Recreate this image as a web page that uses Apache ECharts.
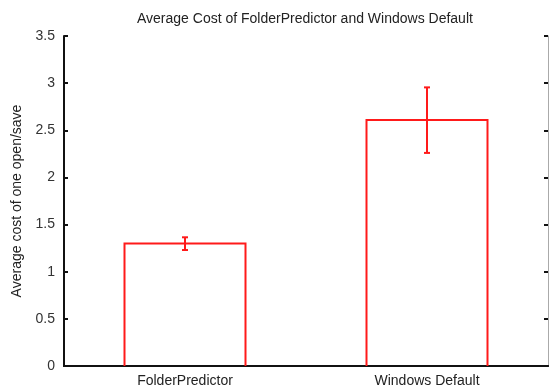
<!DOCTYPE html>
<html>
<head>
<meta charset="utf-8">
<script src="https://cdn.jsdelivr.net/npm/echarts@6/dist/echarts.min.js"></script>
<style>
html,body{margin:0;padding:0;background:#fff;}
#chart{width:549px;height:388px;}
</style>
</head>
<body>
<div id="chart"></div>
<script>
var categories = ['FolderPredictor', 'Windows Default'];
var meanCost = [1.30, 2.61];
var errLow = [1.23, 2.26];
var errHigh = [1.365, 2.955];
var yTicks = [0, 0.5, 1, 1.5, 2, 2.5, 3, 3.5];

var chart = echarts.init(document.getElementById('chart'));
var font = 'Liberation Sans, Arial, sans-serif';

var barData = categories.map(function (c, i) { return [i, meanCost[i]]; });
var errData = categories.map(function (c, i) { return [i, errLow[i], errHigh[i]]; });

chart.setOption({
  animation: false,
  backgroundColor: '#fff',
  title: {
    text: 'Average Cost of FolderPredictor and Windows Default',
    left: 132, top: 7,
    textStyle: { fontFamily: font, fontSize: 14, fontWeight: 'normal', color: '#222' }
  },
  grid: { left: 64, top: 36, right: 1, bottom: 22 },
  xAxis: [{
    type: 'category', data: categories, position: 'bottom',
    axisLine: { lineStyle: { color: '#111', width: 2 } },
    axisTick: { show: false },
    axisLabel: { fontFamily: font, fontSize: 14, color: '#222', margin: 8 },
    splitLine: { show: false }
  }, {
    type: 'category', data: categories, position: 'top',
    axisLine: { lineStyle: { color: '#111', width: 2 } },
    axisTick: { show: false }, axisLabel: { show: false }
  }],
  yAxis: [{
    type: 'value', min: 0, max: 3.5, interval: 0.5,
    name: 'Average cost of one open/save', nameLocation: 'middle', nameGap: 30,
    nameTextStyle: { fontFamily: font, fontSize: 14, color: '#222' },
    axisLine: { show: true, lineStyle: { color: '#111', width: 2 } },
    axisTick: { show: true, inside: true, length: 4, lineStyle: { color: '#111', width: 2 } },
    axisLabel: { fontFamily: font, fontSize: 14, color: '#333', margin: 9,
      formatter: function (v) { return String(v); } },
    splitLine: { show: false }
  }, {
    type: 'value', min: 0, max: 3.5, interval: 0.5, position: 'right',
    axisLine: { show: true, lineStyle: { color: '#aaa', width: 1 } },
    axisTick: { show: true, inside: true, length: 4, lineStyle: { color: '#111', width: 2 } },
    axisLabel: { show: false }, splitLine: { show: false }
  }],
  series: [{
    type: 'custom', xAxisIndex: 0, yAxisIndex: 0, z: 1,
    data: barData,
    renderItem: function (params, api) {
      var base = api.coord([api.value(0), 0]);
      var top = api.coord([api.value(0), api.value(1)]);
      var w = api.size([1, 0])[0] * 0.5;
      var x0 = base[0] - w / 2, x1 = base[0] + w / 2;
      return {
        type: 'polyline',
        shape: { points: [[x0, base[1]], [x0, top[1]], [x1, top[1]], [x1, base[1]]] },
        style: { stroke: '#ff1a1a', lineWidth: 2, fill: null }
      };
    }
  }, {
    type: 'custom', xAxisIndex: 0, yAxisIndex: 0, z: 3,
    data: errData,
    renderItem: function (params, api) {
      var lo = api.coord([api.value(0), api.value(1)]);
      var hi = api.coord([api.value(0), api.value(2)]);
      var cw = 3;
      return {
        type: 'group',
        children: [
          { type: 'line', shape: { x1: lo[0], y1: lo[1], x2: hi[0], y2: hi[1] }, style: { stroke: '#ff1a1a', lineWidth: 2 } },
          { type: 'line', shape: { x1: lo[0] - cw, y1: lo[1], x2: lo[0] + cw, y2: lo[1] }, style: { stroke: '#ff1a1a', lineWidth: 2 } },
          { type: 'line', shape: { x1: hi[0] - cw, y1: hi[1], x2: hi[0] + cw, y2: hi[1] }, style: { stroke: '#ff1a1a', lineWidth: 2 } }
        ]
      };
    }
  }]
});
</script>
</body>
</html>
